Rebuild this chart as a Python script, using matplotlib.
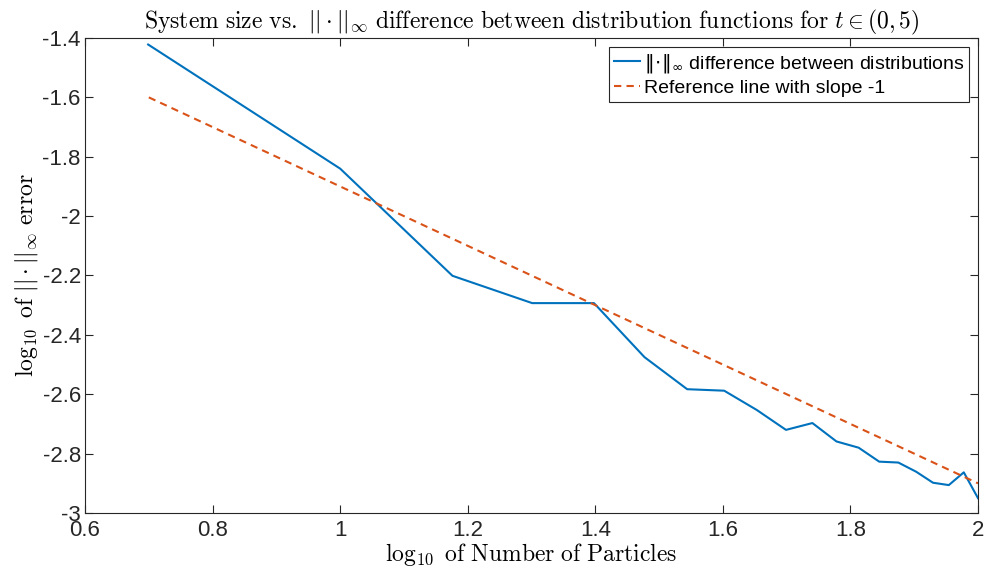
import numpy as np
import matplotlib
matplotlib.use("Agg")
import matplotlib.pyplot as plt
from matplotlib.ticker import FuncFormatter

# number of particles used for each run
particles = [5, 10, 15, 20, 25, 30, 35, 40, 45, 50,
             55, 60, 65, 70, 75, 80, 85, 90, 95, 100]
# log10 of the sup-norm error
log_error = [-1.422, -1.840, -2.201, -2.293, -2.293, -2.475, -2.583, -2.588, -2.653, -2.720,
             -2.697, -2.759, -2.780, -2.827, -2.830, -2.861, -2.898, -2.906, -2.863, -2.950]
# reference line with slope -1
ref_x = [0.7, 2.0]
ref_y = [-1.6, -2.9]

x_ticks = [0.6, 0.8, 1.0, 1.2, 1.4, 1.6, 1.8, 2.0]
y_ticks = [-3, -2.8, -2.6, -2.4, -2.2, -2, -1.8, -1.6, -1.4]

plt.rcParams["mathtext.fontset"] = "cm"
plt.rcParams["axes.unicode_minus"] = False
plt.rcParams["font.family"] = ["Liberation Sans", "DejaVu Sans"]

axis_color = "#262626"

fig = plt.figure(figsize=(9.84, 5.73), dpi=100)
ax = fig.add_axes([0.0864, 0.1047, 0.9075, 0.829])

ax.plot(np.log10(particles), log_error, color="#0072BD", linewidth=1.5,
        label=r"$|\!|\!\cdot\!|\!|_{\infty}$ difference between distributions")
ax.plot(ref_x, ref_y, color="#D95319", linewidth=1.5, linestyle=(0, (3.5, 2.5)),
        label="Reference line with slope -1")

ax.set_xlim(0.6, 2)
ax.set_ylim(-3, -1.4)
ax.set_xticks(x_ticks)
ax.set_yticks(y_ticks)
ax.xaxis.set_major_formatter(FuncFormatter(lambda v, p: "%g" % round(v, 4)))
ax.yaxis.set_major_formatter(FuncFormatter(lambda v, p: "%g" % round(v, 4)))
ax.tick_params(direction="in", length=6, width=0.8, labelsize=16, colors=axis_color,
               top=True, right=True, pad=3)
ax.tick_params(axis="x", pad=5)
for s in ax.spines.values():
    s.set_color(axis_color)
    s.set_linewidth(0.8)

ax.set_title(r"$\mathrm{System\ size\ vs.}\ ||\cdot||_\infty\ \mathrm{difference\ between\ distribution\ functions\ for}\ t\in(0,5)$",
             fontsize=17, pad=7)
ax.set_xlabel(r"$\log_{10}\ \mathrm{of\ Number\ of\ Particles}$", fontsize=17, labelpad=0)
ax.set_ylabel(r"$\log_{10}\ \mathrm{of}\ ||\cdot||_\infty\ \mathrm{error}$", fontsize=17, labelpad=2)

leg = ax.legend(loc="upper right", fontsize=14, handlelength=1.35, handletextpad=0.2,
                borderpad=0.25, labelspacing=0.25, fancybox=False, framealpha=1,
                edgecolor=axis_color, borderaxespad=0.45)
leg.get_frame().set_linewidth(0.8)
for t in leg.get_texts():
    t.set_math_fontfamily("dejavusans")

fig.savefig("out.png", dpi=100)
